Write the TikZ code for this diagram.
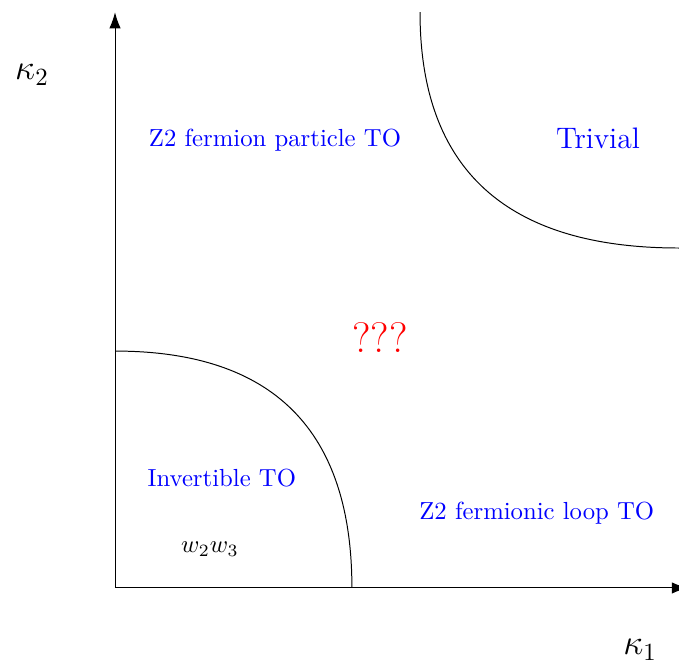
\documentclass[tikz,border=0pt]{standalone}
\usepackage{amsmath,amssymb}
\usetikzlibrary{arrows.meta}
\tikzset{
  axis/.style={line width=0.4pt,-{Latex[length=6.5pt,width=4.6pt]}},
  phaseline/.style={line width=0.4pt},
  phaselabel/.style={blue,font=\normalsize},
}
\begin{document}
\begin{tikzpicture}[line cap=butt,line join=miter]
  \useasboundingbox (-1.636,-1.053) rectangle (8.023,8.364);
  % axes
  \coordinate (O) at (0,0);
  \coordinate (Xend) at (8.15,0);
  \coordinate (Yend) at (0,8.19);
  \draw[axis] (O)--(Xend);
  \draw[axis] (O)--(Yend);
  \node[font=\Large] (kappa2) at (-1.18,7.30) {$\kappa_2$};
  \node[font=\Large] (kappa1) at (7.47,-0.88) {$\kappa_1$};
  % phase boundaries
  \coordinate (Ltop) at (0,3.37);
  \coordinate (Lright) at (3.37,0);
  \draw[phaseline] (Ltop) .. controls (2.247,3.37) and (3.37,2.247) .. (Lright);
  \coordinate (Utop) at (4.339,8.19);
  \coordinate (Uright) at (8.023,4.836);
  \draw[phaseline] (Utop) .. controls (4.339,5.954) and (5.567,4.836) .. (Uright);
  % phases
  \node[phaselabel] (particle) at (2.276,6.373) {Z2 fermion particle TO};
  \node[phaselabel,font=\large] (trivial) at (6.87,6.40) {Trivial};
  \node[red,font=\LARGE] (unknown) at (3.77,3.556) {???};
  \node[phaselabel] (invertible) at (1.52,1.565) {Invertible TO};
  \node (w23) at (1.35,0.555) {$w_2w_3$};
  \node[phaselabel] (loop) at (6.00,1.067) {Z2 fermionic loop TO};
\end{tikzpicture}
\end{document}
